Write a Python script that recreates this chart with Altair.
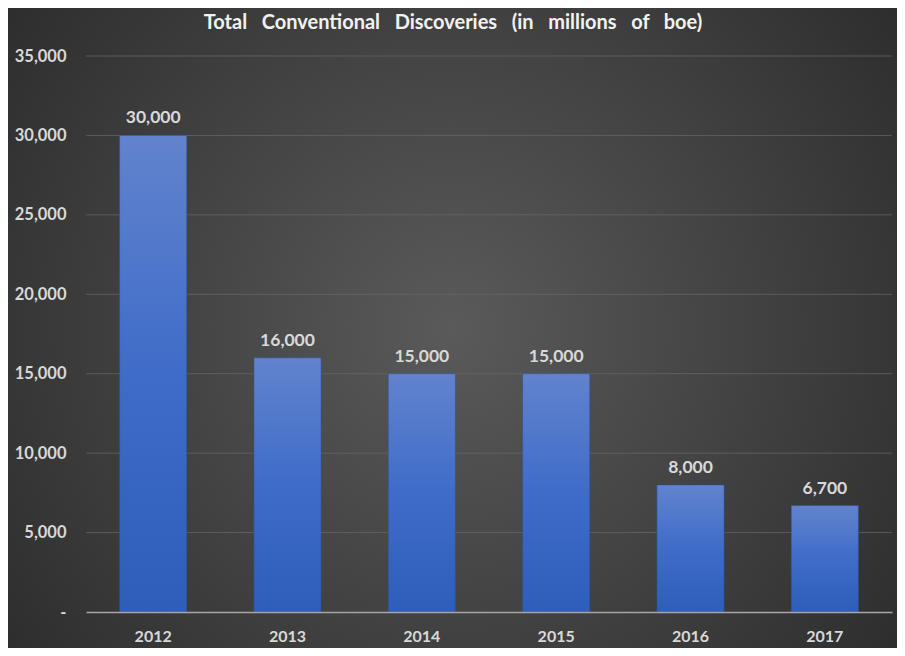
import altair as alt
import pandas as pd

#-data
years = ['2012', '2013', '2014', '2015', '2016', '2017']
discoveries = [30000, 16000, 15000, 15000, 8000, 6700]
y_ticks = [0, 5000, 10000, 15000, 20000, 25000, 30000, 35000]
title_words = ['Total', 'Conventional', 'Discoveries', '(in', 'millions', 'of', 'boe)']

df = pd.DataFrame({'year': years, 'boe': discoveries})

W, H = 806, 556
PAD = {'left': 78, 'top': 48, 'right': 5, 'bottom': 36}
FONT = 'Lato'
TXT = '#d9d9d9'

#radial gradient background painted over the whole canvas
bg = alt.Chart(pd.DataFrame({'a': [0]})).mark_rect(
    clip=False,
    color=alt.Gradient(
        gradient='radial',
        x1=0.5, y1=0.5, x2=0.5, y2=0.5, r1=0, r2=0.75,
        stops=[alt.GradientStop(offset=0, color='#5a5a5a'),
               alt.GradientStop(offset=1, color='#242424')]
    )
).encode(
    x=alt.value(-PAD['left']),
    x2=alt.value(W + PAD['right']),
    y=alt.value(-PAD['top']),
    y2=alt.value(H + PAD['bottom'])
)

#title as a text mark (the background rect would push a normal title off the page)
#wide word gaps like the original
chart_title = ('\u00a0' * 3).join(title_words)
title = alt.Chart(pd.DataFrame({'t': [chart_title]})).mark_text(
    font=FONT, fontSize=20, fontWeight='bold', color='#f2f2f2',
    baseline='middle', align='center'
).encode(text='t:N', x=alt.value(367), y=alt.value(-33))

#grid drawn as rules so it sits on top of the background but under the bars
grid = alt.Chart(pd.DataFrame({'v': y_ticks[1:]})).mark_rule(
    color='#6a6a6a', opacity=0.7, strokeWidth=1
).encode(y=alt.Y('v:Q', scale=alt.Scale(domain=[0, 35000], nice=False)))

base = alt.Chart(df).encode(
    x=alt.X('year:N', title=None, sort=years,
            scale=alt.Scale(paddingInner=0.5, paddingOuter=0.25),
            axis=alt.Axis(labelAngle=0, labelFont=FONT, labelFontSize=16,
                          labelFontWeight='bold', labelColor=TXT, labelPadding=16,
                          ticks=False, domainColor='#a6a6a6', domainWidth=1.5,
                          grid=False, zindex=2)),
    y=alt.Y('boe:Q', title=None,
            scale=alt.Scale(domain=[0, 35000], nice=False),
            axis=alt.Axis(values=y_ticks, labelFont=FONT, labelFontSize=16.5,
                          labelFontWeight='bold', labelColor=TXT, labelPadding=20,
                          labelExpr="datum.value == 0 ? '-' : format(datum.value, ',')",
                          ticks=False, domain=False, grid=False, zindex=2))
)

bars = base.mark_bar(
    color=alt.Gradient(
        gradient='linear', x1=0, y1=0, x2=0, y2=1,
        stops=[alt.GradientStop(offset=0, color='#6283cd'),
               alt.GradientStop(offset=0.5, color='#3f6cc8'),
               alt.GradientStop(offset=1, color='#2d5eb9')]
    ),
    stroke='#2a4f96', strokeWidth=0.5
)

labels = base.mark_text(
    dy=-17, font=FONT, fontSize=17.5, fontWeight='bold', color=TXT
).encode(text=alt.Text('boe:Q', format=','))

chart = alt.layer(bg, title, grid, bars, labels).properties(
    width=W, height=H,
    padding=PAD,
    autosize=alt.AutoSizeParams(type='none')
).configure_view(stroke=None).configure(background='#262626')

chart.save("out.html", embed_options={"renderer": "svg", "actions": False})
